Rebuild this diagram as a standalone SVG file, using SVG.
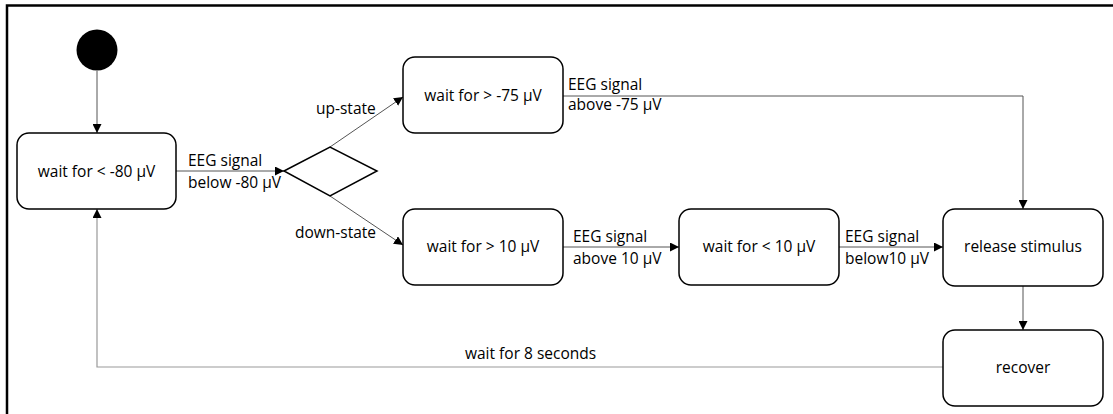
<svg xmlns="http://www.w3.org/2000/svg" width="1113" height="414" viewBox="0 0 1113 414">
<defs>
<marker id="arr" viewBox="0 0 10 10" refX="10" refY="5" markerWidth="9" markerHeight="9" markerUnits="userSpaceOnUse" orient="auto">
<path d="M0,0 L10,5 L0,10 Z" fill="#000"/>
</marker>
<style>
.node{fill:#fff;stroke:#000;stroke-width:1.5}
.t{font-family:"Open Sans","Liberation Sans",sans-serif;font-size:15.5px;fill:#000}
.c{text-anchor:middle}
.edge{fill:none;stroke:#555;stroke-width:1}
.back{fill:none;stroke:#999;stroke-width:1.2}
</style>
</defs>
<rect width="1113" height="414" fill="#fff"/>
<path d="M7,420 L7,5.5 L1120,5.5" fill="none" stroke="#000" stroke-width="2.5"/>

<g id="connectors">
<line class="edge" x1="97" y1="71" x2="97" y2="133" marker-end="url(#arr)"/>
<line class="edge" x1="176" y1="171" x2="284" y2="171" marker-end="url(#arr)"/>
<line class="edge" x1="330" y1="147" x2="403" y2="97" marker-end="url(#arr)"/>
<line class="edge" x1="330" y1="196" x2="403" y2="245" marker-end="url(#arr)"/>
<polyline class="edge" points="563,96 1023,96 1023,209" marker-end="url(#arr)"/>
<line class="edge" x1="563" y1="247" x2="679" y2="247" marker-end="url(#arr)"/>
<line class="edge" x1="839" y1="247" x2="943" y2="247" marker-end="url(#arr)"/>
<line class="edge" x1="1023" y1="286" x2="1023" y2="330" marker-end="url(#arr)"/>
<polyline class="back" points="943,367 97,367 97,209" marker-end="url(#arr)"/>
<text class="t" x="188" y="166">EEG signal</text>
<text class="t" x="188" y="188">below -80 µV</text>
<text class="t" x="316" y="114">up-state</text>
<text class="t" x="295" y="238">down-state</text>
<text class="t" x="568" y="90">EEG signal</text>
<text class="t" x="568" y="110">above -75 µV</text>
<text class="t" x="573" y="242">EEG signal</text>
<text class="t" x="573" y="264">above 10 µV</text>
<text class="t" x="845" y="242">EEG signal</text>
<text class="t" x="845" y="264">below10 µV</text>
<text class="t" x="465" y="359">wait for 8 seconds</text>
</g>

<g id="start"><circle cx="97" cy="50" r="20.5" fill="#000"/></g>
<g id="n1"><rect class="node" x="17" y="133" width="159" height="76" rx="12"/><text class="t c" x="96.5" y="177">wait for &lt; -80 µV</text></g>
<g id="decision"><polygon class="node" points="284,171 330,147 377,171 330,196"/></g>
<g id="n2"><rect class="node" x="403" y="57" width="160" height="76" rx="12"/><text class="t c" x="483" y="101">wait for &gt; -75 µV</text></g>
<g id="n3"><rect class="node" x="403" y="209" width="160" height="76" rx="12"/><text class="t c" x="483" y="252">wait for &gt; 10 µV</text></g>
<g id="n4"><rect class="node" x="679" y="209" width="160" height="76" rx="12"/><text class="t c" x="759" y="252">wait for &lt; 10 µV</text></g>
<g id="n5"><rect class="node" x="943" y="209" width="160" height="77" rx="12"/><text class="t c" x="1023" y="252">release stimulus</text></g>
<g id="n6"><rect class="node" x="943" y="330" width="160" height="76" rx="12"/><text class="t c" x="1023" y="373">recover</text></g>
</svg>
